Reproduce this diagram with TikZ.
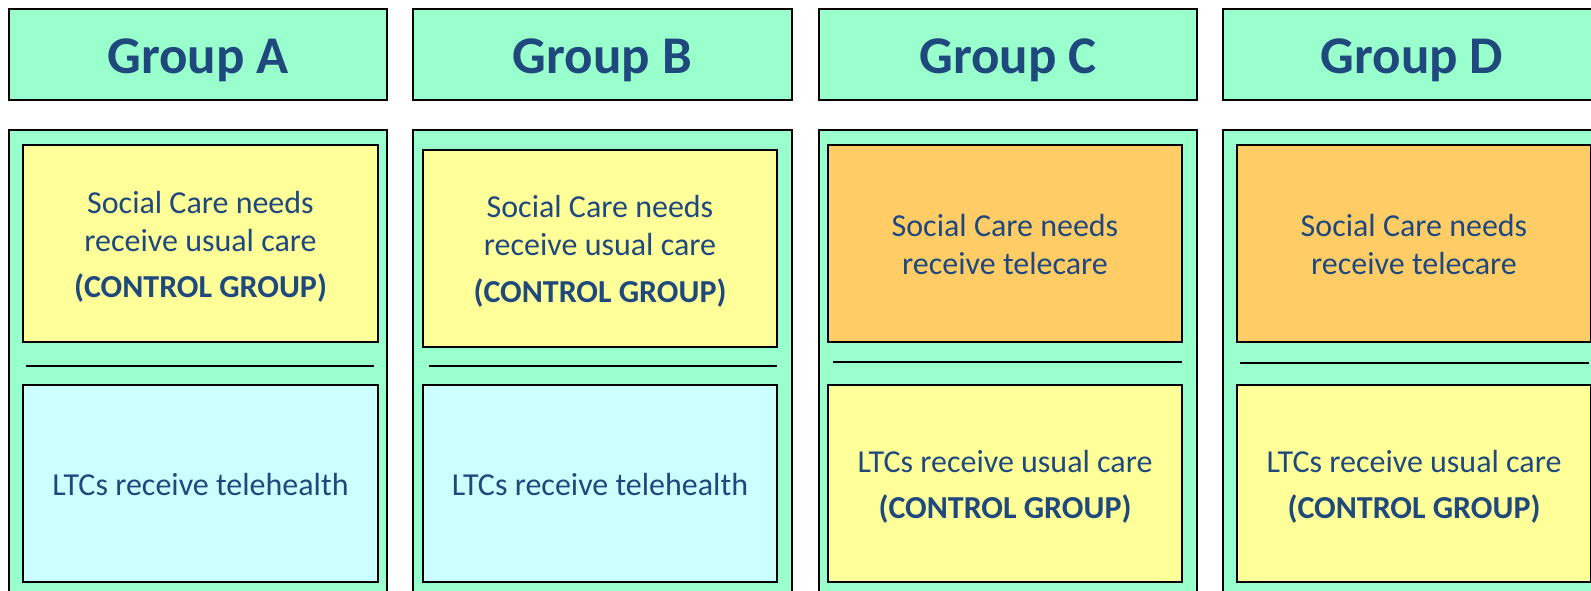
\documentclass[tikz,border=0pt]{standalone}
\usepackage{fontspec}
\setmainfont{Carlito}
\definecolor{mint}{RGB}{153,255,204}
\definecolor{paleyellow}{RGB}{255,255,153}
\definecolor{palecyan}{RGB}{204,255,255}
\definecolor{paleorange}{RGB}{255,204,102}
\definecolor{textblue}{RGB}{31,73,125}
\newcommand\mybox[6]{%
  \pgfmathsetmacro\mybw{(#5-#3)*0.5}%
  \pgfmathsetmacro\mybh{(#6-#4)*0.5}%
  \node[#2, minimum width=\mybw pt, minimum height=\mybh pt] (#1) at ({(#3+#5)/2},{(#4+#6)/2}) {};}
\begin{document}
\begin{tikzpicture}[x=0.5pt,y=-0.5pt,
  rectbase/.style={draw=black, line width=1pt, inner sep=0pt, outer sep=0pt, rectangle},
  hdr/.style={rectbase, fill=mint},
  outerbox/.style={rectbase, fill=mint},
  ycell/.style={rectbase, fill=paleyellow},
  ccell/.style={rectbase, fill=palecyan},
  ocell/.style={rectbase, fill=paleorange},
  sepline/.style={draw=black, line width=1pt},
  hdrtxt/.style={text=textblue, font=\fontsize{26.5pt}{30pt}\selectfont\bfseries, inner sep=0pt, anchor=base},
  txt/.style={text=textblue, font=\fontsize{16pt}{19pt}\selectfont, inner sep=0pt, anchor=base},
  btxt/.style={txt, font=\fontsize{16pt}{19pt}\selectfont\bfseries}]
\useasboundingbox (0,0) rectangle (1591,590);
\clip (0,0) rectangle (1591,590);
% headers
\mybox{hA}{hdr}{9}{9}{387}{100}
\mybox{hB}{hdr}{413}{9}{792}{100}
\mybox{hC}{hdr}{819}{9}{1197}{100}
\mybox{hD}{hdr}{1223}{9}{1601}{100}
\node[hdrtxt] (tA) at (198,73) {Group A};
\node[hdrtxt] (tB) at (602.5,73) {Group B};
\node[hdrtxt] (tC) at (1008,73) {Group C};
\node[hdrtxt] (tD) at (1412,73) {Group D};
% outer columns
\mybox{oA}{outerbox}{9}{130}{387}{620}
\mybox{oB}{outerbox}{413}{130}{792}{620}
\mybox{oC}{outerbox}{819}{130}{1197}{620}
\mybox{oD}{outerbox}{1223}{130}{1601}{620}
% column A
\mybox{aTop}{ycell}{23}{145}{378}{342}
\mybox{aBot}{ccell}{23}{385}{378}{582}
\coordinate (aL1) at (26,366); \coordinate (aL2) at (374,366);
\draw[sepline] (aL1) -- (aL2);
\node[txt] (a1) at (200.5,213) {Social Care needs};
\node[txt] (a2) at (200.5,251) {receive usual care};
\node[btxt] (a3) at (200.5,297) {(CONTROL GROUP)};
\node[txt] (a4) at (200.5,495) {LTCs receive telehealth};
% column B
\mybox{bTop}{ycell}{423}{150}{777}{347}
\mybox{bBot}{ccell}{423}{385}{777}{582}
\coordinate (bL1) at (429,366); \coordinate (bL2) at (777,366);
\draw[sepline] (bL1) -- (bL2);
\node[txt] (b1) at (600,217) {Social Care needs};
\node[txt] (b2) at (600,255) {receive usual care};
\node[btxt] (b3) at (600,302) {(CONTROL GROUP)};
\node[txt] (b4) at (600,495) {LTCs receive telehealth};
% column C
\mybox{cTop}{ocell}{828}{145}{1182}{342}
\mybox{cBot}{ycell}{828}{385}{1182}{582}
\coordinate (cL1) at (833,362); \coordinate (cL2) at (1182,362);
\draw[sepline] (cL1) -- (cL2);
\node[txt] (c1) at (1005,236) {Social Care needs};
\node[txt] (c2) at (1005,274) {receive telecare};
\node[txt] (c3) at (1005,472) {LTCs receive usual care};
\node[btxt] (c4) at (1005,518) {(CONTROL GROUP)};
% column D
\mybox{dTop}{ocell}{1237}{145}{1591}{342}
\mybox{dBot}{ycell}{1237}{385}{1591}{582}
\coordinate (dL1) at (1240,363); \coordinate (dL2) at (1589,363);
\draw[sepline] (dL1) -- (dL2);
\node[txt] (d1) at (1414,236) {Social Care needs};
\node[txt] (d2) at (1414,274) {receive telecare};
\node[txt] (d3) at (1414,472) {LTCs receive usual care};
\node[btxt] (d4) at (1414,518) {(CONTROL GROUP)};
\end{tikzpicture}
\end{document}
